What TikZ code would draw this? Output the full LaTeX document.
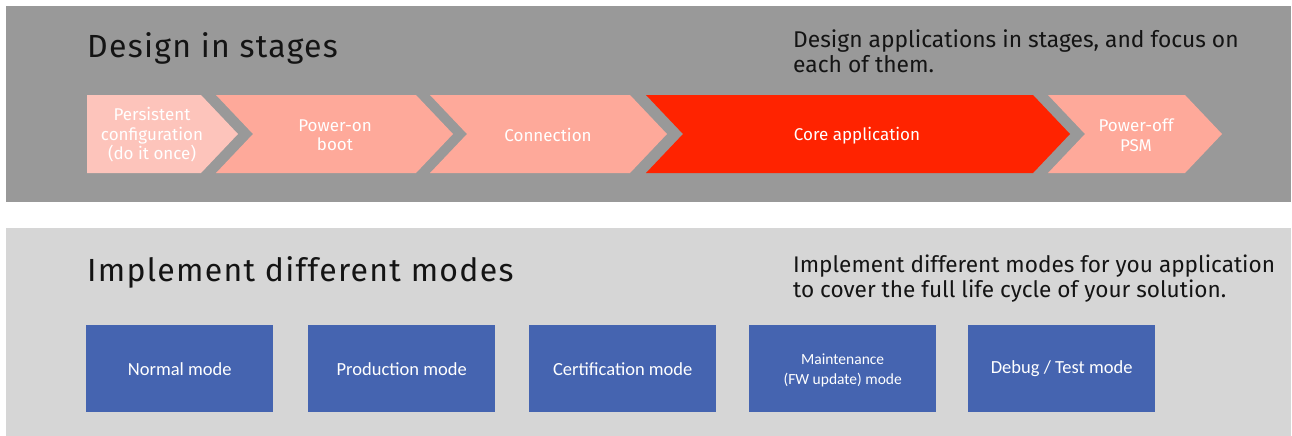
\documentclass[tikz,border=0pt]{standalone}
\usepackage{fontspec}
\setmainfont{Fira Sans}
\newfontfamily\headfont[LetterSpace=4]{Fira Sans}
\newfontfamily\boxfont{Carlito}

\definecolor{paneldark}{HTML}{999999}
\definecolor{panellight}{HTML}{D6D6D6}
\definecolor{stagepale}{HTML}{FDC4BB}
\definecolor{stagesalmon}{HTML}{FEA99A}
\definecolor{stagered}{HTML}{FF2300}
\definecolor{modeblue}{HTML}{4564B0}
\definecolor{ink}{HTML}{141414}

\begin{document}
\begin{tikzpicture}[x=1pt,y=-1pt,
  heading/.style={anchor=base west,inner sep=0pt,text=ink,font=\headfont\fontsize{32}{36}\selectfont},
  blurb/.style={anchor=base west,inner sep=0pt,text=ink,align=left},
  stagetext/.style={text=white,align=center,inner sep=0pt,font=\fontsize{17}{19.5}\selectfont},
  modebox/.style={fill=modeblue,minimum width=187pt,minimum height=87pt,inner sep=0pt,
    text=white,align=center,font=\boxfont\fontsize{18.5}{22}\selectfont},
]
\useasboundingbox (0,0) rectangle (1292,436);

% panels
\fill[paneldark] (6,6) rectangle (1291,202);
\fill[panellight] (6,228) rectangle (1291,436);

% headings and descriptions (a multi-line node sits on its last baseline)
\node[heading] (h1) at (87,57) {Design in stages};
\node[blurb,font=\fontsize{22.8}{25}\selectfont] (d1) at (793,73) {Design applications in stages, and focus on\\each of them.};
\node[heading] (h2) at (87,281) {Implement different modes};
\node[blurb,font=\fontsize{22.6}{25}\selectfont] (d2) at (793,297) {Implement different modes for you application\\to cover the full life cycle of your solution.};

% stage chevrons: top 95, bottom 173, point depth 37
\fill[stagepale] (87,95) -- (201,95) -- (238,134) -- (201,173) -- (87,173) -- cycle;
\fill[stagesalmon] (216,95) -- (416,95) -- (453,134) -- (416,173) -- (216,173) -- (253,134) -- cycle;
\fill[stagesalmon] (430,95) -- (630,95) -- (667,134) -- (630,173) -- (430,173) -- (467,134) -- cycle;
\fill[stagered] (646,95) -- (1033,95) -- (1070,134) -- (1033,173) -- (646,173) -- (683,134) -- cycle;
\fill[stagesalmon] (1048,95) -- (1185,95) -- (1222,134) -- (1185,173) -- (1048,173) -- (1085,134) -- cycle;

\node[stagetext] (s1) at (152,135) {Persistent\\configuration\\(do it once)};
\node[stagetext] (s2) at (335,135) {Power-on\\boot};
\node[stagetext] (s3) at (548,135) {Connection};
\node[stagetext] (s4) at (857,136) {Core application};
\node[stagetext] (s5) at (1136,135) {Power-off\\PSM};

% mode boxes
\node[modebox,anchor=north west] (m1) at (86,325) {Normal mode};
\node[modebox,anchor=north west] (m2) at (308,325) {Production mode};
\node[modebox,anchor=north west] (m3) at (529,325) {Certification mode};
\node[modebox,anchor=north west,font=\boxfont\fontsize{15.5}{20}\selectfont,text depth=0pt] (m4) at (749,325) {Maintenance\\(FW update) mode};
\node[modebox,anchor=north west] (m5) at (968,325) {Debug / Test mode};
\end{tikzpicture}
\end{document}
